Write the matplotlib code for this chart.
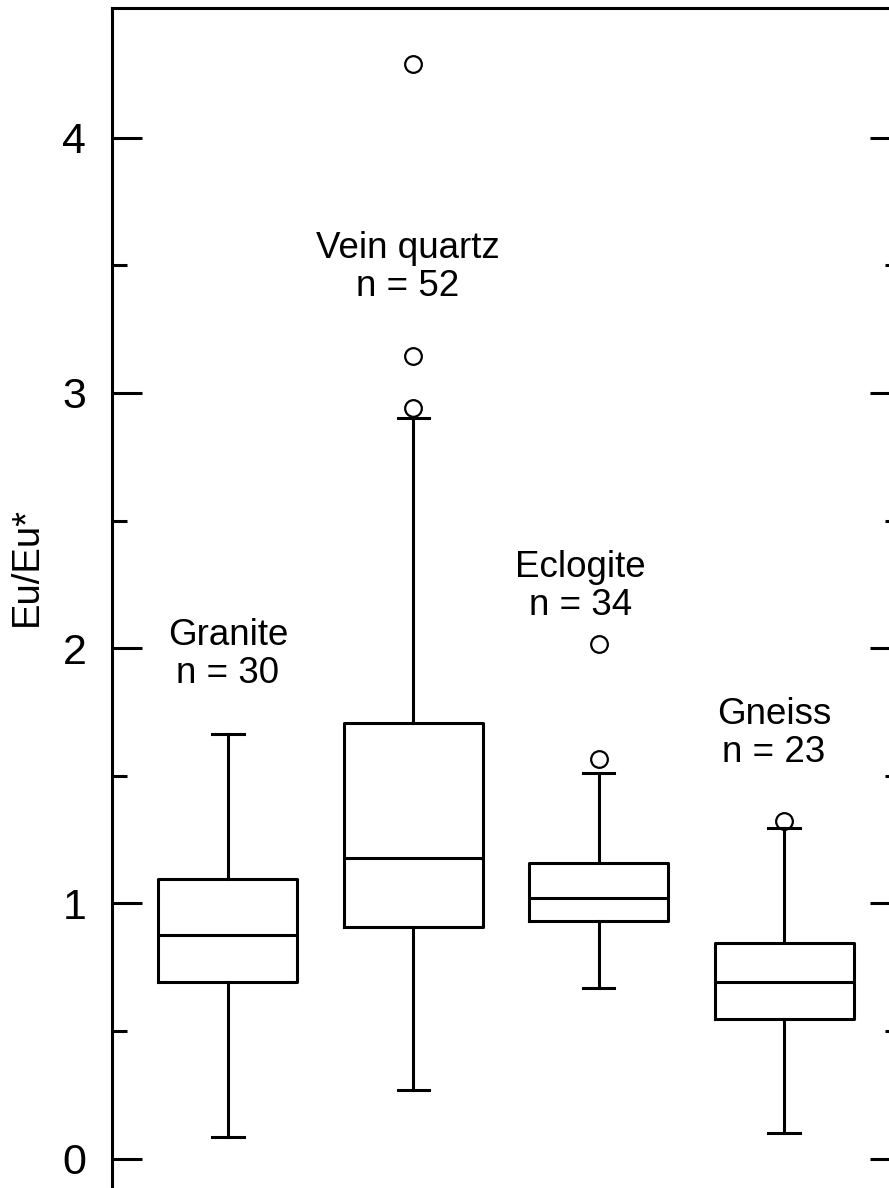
import matplotlib
matplotlib.use("Agg")
import matplotlib.pyplot as plt
from matplotlib.ticker import MultipleLocator, FixedLocator

plt.rcParams['font.family'] = ['Liberation Sans', 'DejaVu Sans']

# Eu anomaly summary per rock type (box statistics)
rock_types = ["Granite", "Vein quartz", "Eclogite", "Gneiss"]
counts = [30, 52, 34, 23]
q1 = [0.693, 0.909, 0.932, 0.548]
median = [0.878, 1.179, 1.022, 0.693]
q3 = [1.097, 1.708, 1.160, 0.846]
whisker_low = [0.086, 0.27, 0.67, 0.10]
whisker_high = [1.665, 2.90, 1.512, 1.297]
outliers = [[], [4.29, 3.146, 2.94], [2.017, 1.567], [1.324]]

# where the "name / n" labels sit (x, y in data units)
label_x = [0.0, 0.97, 1.9, 2.945]
label_y = [1.975, 3.49, 2.241, 1.667]

stats = []
for i in range(len(rock_types)):
    stats.append(dict(med=median[i], q1=q1[i], q3=q3[i],
                      whislo=whisker_low[i], whishi=whisker_high[i],
                      fliers=outliers[i]))

fig = plt.figure(figsize=(8.89, 11.88), dpi=100)
W, H = 889, 1188
ymin, ymax = -0.2, 4.51
px_per_unit = 255.25
top_px = 7.5
ax_h_px = (ymax - ymin) * px_per_unit
left_px, ax_w_px = 112, 788
ax = fig.add_axes([left_px / W, 1 - (top_px + ax_h_px) / H, ax_w_px / W, ax_h_px / H])

lw = 2.2
line = dict(color='black', linewidth=lw)
ax.bxp(stats, positions=range(4), widths=0.75, capwidths=0.17,
       boxprops=line, whiskerprops=line, capprops=line, medianprops=line,
       flierprops=dict(marker='o', markersize=12, markerfacecolor='none',
                       markeredgecolor='black', markeredgewidth=1.6),
       showfliers=True)

for i, name in enumerate(rock_types):
    ax.text(label_x[i], label_y[i], f"{name}\nn = {counts[i]}",
            ha='center', va='center', multialignment='center',
            fontsize=26.5, linespacing=1.12)

ax.set_xlim(-0.625, 3.625)
ax.set_ylim(ymin, ymax)
ax.set_xticks([])
ax.yaxis.set_major_locator(MultipleLocator(1))
ax.yaxis.set_minor_locator(FixedLocator([0.5, 1.5, 2.5, 3.5]))
ax.tick_params(axis='y', which='both', direction='in', right=True, width=lw)
ax.tick_params(axis='y', which='major', length=21.5, labelsize=31, pad=18.5)
ax.tick_params(axis='y', which='minor', length=11)
for sp in ax.spines.values():
    sp.set_linewidth(lw)

ax.set_ylabel("Eu/Eu*", fontsize=27.5)
ax.yaxis.set_label_coords((45 - left_px) / ax_w_px, (top_px + ax_h_px - 567) / ax_h_px)

fig.savefig("out.png", dpi=100)
